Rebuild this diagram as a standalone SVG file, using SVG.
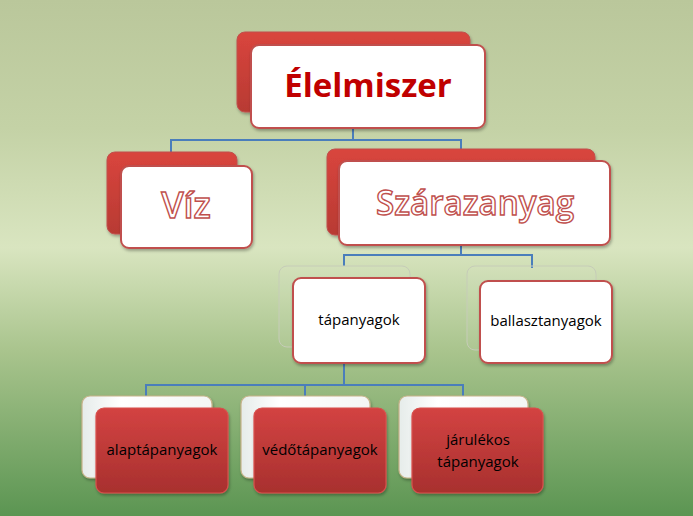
<svg xmlns="http://www.w3.org/2000/svg" width="693" height="516" viewBox="0 0 693 516">
<defs>
<linearGradient id="bg" x1="0" y1="0" x2="0" y2="1">
<stop offset="0" stop-color="#bac79b"/>
<stop offset="0.25" stop-color="#c4d2a6"/>
<stop offset="0.48" stop-color="#d9e5c0"/>
<stop offset="0.68" stop-color="#a9c48d"/>
<stop offset="1" stop-color="#5b9552"/>
</linearGradient>
<linearGradient id="redback" x1="0" y1="0" x2="0" y2="1">
<stop offset="0" stop-color="#d9453d"/>
<stop offset="1" stop-color="#b83a33"/>
</linearGradient>
<linearGradient id="redfront" x1="0" y1="0" x2="0" y2="1">
<stop offset="0" stop-color="#d34342"/>
<stop offset="1" stop-color="#a8302e"/>
</linearGradient>
<linearGradient id="whiteback" x1="0" y1="0" x2="1" y2="0">
<stop offset="0" stop-color="#e6ecea"/>
<stop offset="0.3" stop-color="#ffffff"/>
<stop offset="1" stop-color="#f4f6f4"/>
</linearGradient>
<filter id="sh" x="-10%" y="-10%" width="130%" height="130%">
<feDropShadow dx="1" dy="2" stdDeviation="1.5" flood-color="#000" flood-opacity="0.3"/>
</filter>
</defs>
<style>
.conn{fill:none;stroke:#4a7ebb;stroke-width:2}
.back{fill:url(#redback);stroke:#c0504d;stroke-width:1}
.front{fill:#ffffff;stroke:#c0504d;stroke-width:2}
.fade{fill:#ffffff;fill-opacity:0.05;stroke:#c6ccb8;stroke-width:1}
.wback{fill:url(#whiteback);stroke:#c7b48a;stroke-width:1.2}
.rfront{fill:url(#redfront);stroke:#d9504d;stroke-width:1.2}
.big{font-family:"Open Sans","Liberation Sans",sans-serif;text-anchor:middle}
.t{font-family:"Open Sans","Liberation Sans",sans-serif;font-size:15px;fill:#000;text-anchor:middle}
.outl{fill:#ffffff;stroke:#c0504d;stroke-width:1.4;font-weight:600}
</style>
<rect width="693" height="516" fill="url(#bg)"/>
<g id="connectors">
<path class="conn" d="M353,128 V140 M171,152 V140 H461 V149"/>
<path class="conn" d="M461,245 V255 M344,266 V255 H532 V268"/>
<path class="conn" d="M344,363 V385 M146,396 V385 H463 V396 M305,385 V396"/>
</g>
<g id="elelmiszer">
<rect class="back" x="237" y="32" width="233" height="80" rx="8" filter="url(#sh)"/>
<rect class="front" x="251" y="45" width="234" height="83" rx="8" filter="url(#sh)"/>
<text class="big" x="368" y="97" font-size="33" font-weight="bold" fill="#c00000">Élelmiszer</text>
</g>
<g id="viz">
<rect class="back" x="107" y="152" width="130" height="82" rx="8" filter="url(#sh)"/>
<rect class="front" x="121" y="166" width="131" height="82" rx="8" filter="url(#sh)"/>
<text class="big outl" x="186" y="218" font-size="36">Víz</text>
</g>
<g id="szarazanyag">
<rect class="back" x="327" y="149" width="268" height="86" rx="8" filter="url(#sh)"/>
<rect class="front" x="339" y="161" width="271" height="84" rx="8" filter="url(#sh)"/>
<text class="big outl" x="475" y="215" font-size="34" textLength="198" lengthAdjust="spacingAndGlyphs">Szárazanyag</text>
</g>
<g id="tapanyagok">
<rect class="fade" x="279" y="266" width="131" height="81" rx="8"/>
<rect class="front" x="293" y="278" width="132" height="85" rx="8" filter="url(#sh)"/>
<text class="t" x="359" y="325">tápanyagok</text>
</g>
<g id="ballasztanyagok">
<rect class="fade" x="467" y="266" width="129" height="84" rx="8"/>
<rect class="front" x="480" y="281" width="132" height="82" rx="8" filter="url(#sh)"/>
<text class="t" x="546" y="326">ballasztanyagok</text>
</g>
<g id="alaptapanyagok">
<rect class="wback" x="82" y="396" width="130" height="82" rx="8" filter="url(#sh)"/>
<rect class="rfront" x="96" y="408" width="132" height="85" rx="8" filter="url(#sh)"/>
<text class="t" x="162" y="455">alaptápanyagok</text>
</g>
<g id="vedotapanyagok">
<rect class="wback" x="241" y="396" width="129" height="82" rx="8" filter="url(#sh)"/>
<rect class="rfront" x="254" y="408" width="132" height="85" rx="8" filter="url(#sh)"/>
<text class="t" x="320" y="455">védőtápanyagok</text>
</g>
<g id="jarulekos">
<rect class="wback" x="399" y="396" width="129" height="82" rx="8" filter="url(#sh)"/>
<rect class="rfront" x="412" y="408" width="131" height="85" rx="8" filter="url(#sh)"/>
<text class="t" x="478" y="445">járulékos</text>
<text class="t" x="478" y="467">tápanyagok</text>
</g>
</svg>
